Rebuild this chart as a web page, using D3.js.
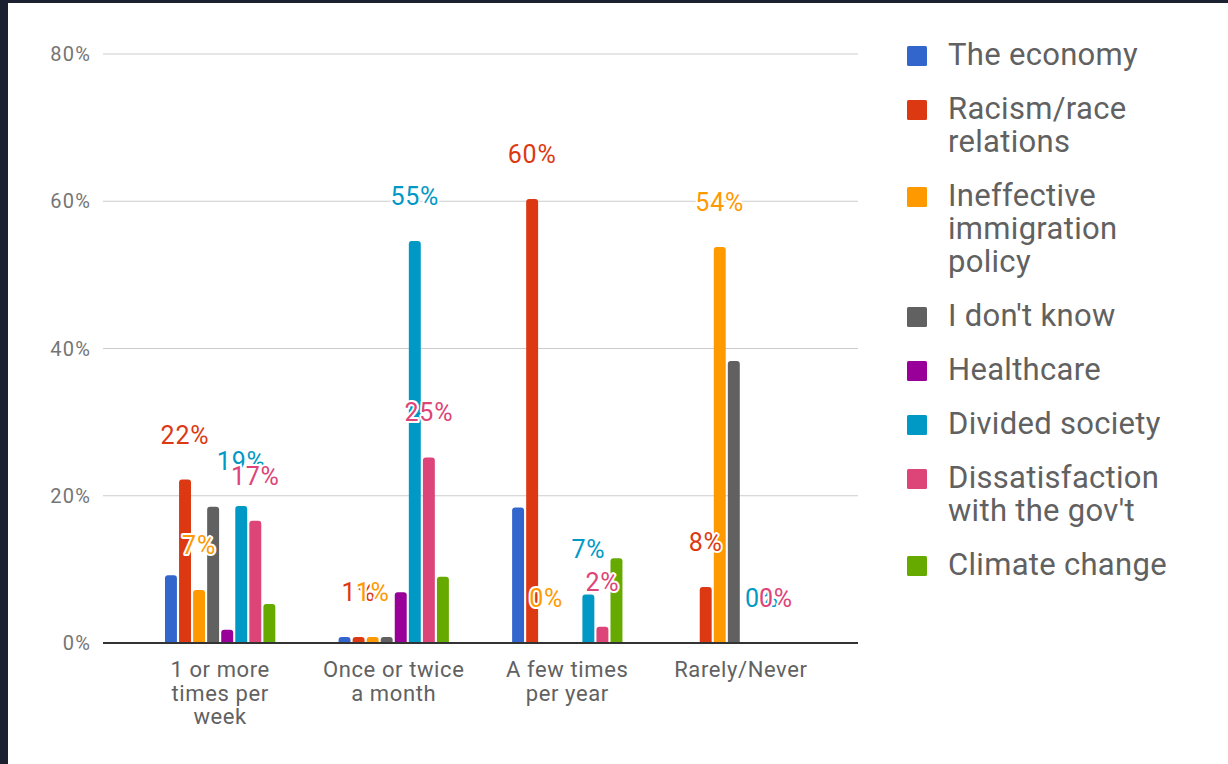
<!DOCTYPE html>
<html>
<head>
<meta charset="utf-8">
<script src="https://cdn.jsdelivr.net/npm/d3@7"></script>
<style>
  html, body { margin: 0; padding: 0; background: #1b2130; }
  svg { display: block; }
</style>
</head>
<body>
<script>
// ---- data ----
const categories = ["1 or more times per week", "Once or twice a month", "A few times per year", "Rarely/Never"];
const categoryLines = [["1 or more", "times per", "week"], ["Once or twice", "a month"], ["A few times", "per year"], ["Rarely/Never"]];
const seriesNames = ["The economy", "Racism/race relations", "Ineffective immigration policy", "I don't know", "Healthcare", "Divided society", "Dissatisfaction with the gov't", "Climate change"];
const legendLines = [["The economy"], ["Racism/race", "relations"], ["Ineffective", "immigration", "policy"], ["I don't know"], ["Healthcare"], ["Divided society"], ["Dissatisfaction", "with the gov't"], ["Climate change"]];
const colors = ["#3366cc", "#dc3912", "#ff9900", "#616161", "#990099", "#0099c6", "#dd4477", "#66aa00"];
const economy      = [9.2, 0.8, 18.4, 0];
const racism       = [22.2, 0.8, 60.3, 7.6];
const immigration  = [7.2, 0.8, 0, 53.8];
const dontKnow     = [18.5, 0.8, 0, 38.3];
const healthcare   = [1.8, 6.9, 0, 0];
const divided      = [18.6, 54.6, 6.6, 0];
const dissatisfied = [16.6, 25.2, 2.2, 0];
const climate      = [5.3, 9.0, 11.5, 0];
const seriesValues = [economy, racism, immigration, dontKnow, healthcare, divided, dissatisfied, climate];
const labeledSeries = [1, 2, 5, 6];
const yTicks = [0, 20, 40, 60, 80];

// ---- layout ----
const W = 1228, H = 764;
const svg = d3.select("body").append("svg").attr("width", W).attr("height", H);
svg.append("rect").attr("x", 8).attr("y", 3).attr("width", W - 8).attr("height", H - 3).attr("fill", "#ffffff");

const font = "Roboto, 'Noto Sans', sans-serif";
const y = d3.scaleLinear().domain([0, 80]).range([643, 54]);
const x0 = d3.scaleBand().domain(categories).range([103, 858]).paddingInner(0.34).paddingOuter(0.345);
const x1 = d3.scaleBand().domain(seriesNames).range([0, x0.bandwidth()]).padding(0.15);

// gridlines
const grid = svg.append("g");
grid.selectAll("line").data(yTicks.filter(t => t > 0)).join("line")
  .attr("x1", 103).attr("x2", 858)
  .attr("y1", d => y(d)).attr("y2", d => y(d))
  .attr("stroke", "#cccccc").attr("stroke-width", 1);

// y labels
svg.append("g").selectAll("text").data(yTicks).join("text")
  .attr("x", 91).attr("y", d => y(d) + 7)
  .attr("text-anchor", "end")
  .attr("font-family", font).attr("font-size", 20).attr("letter-spacing", 1.2).attr("fill", "#757575")
  .text(d => d + "%");

// bars
const r = 3;
function barPath(x, yTop, w, yBase) {
  const h = yBase - yTop;
  if (h <= 0) return "";
  const rr = Math.min(r, h, w / 2);
  return `M${x},${yBase}V${yTop + rr}Q${x},${yTop} ${x + rr},${yTop}H${x + w - rr}Q${x + w},${yTop} ${x + w},${yTop + rr}V${yBase}Z`;
}
const groups = svg.append("g").selectAll("g").data(categories).join("g")
  .attr("transform", d => `translate(${x0(d)},0)`);
groups.selectAll("path").data((c, ci) => seriesNames.map((s, si) => ({ s, si, v: seriesValues[si][ci] })))
  .join("path")
  .attr("d", d => barPath(x1(d.s), y(d.v), x1.bandwidth(), y(0)))
  .attr("fill", d => colors[d.si]);

// baseline
svg.append("line").attr("x1", 103).attr("x2", 858).attr("y1", y(0)).attr("y2", y(0))
  .attr("stroke", "#333333").attr("stroke-width", 2);

// value labels
const labels = svg.append("g");
labeledSeries.forEach(si => {
  categories.forEach((c, ci) => {
    const v = seriesValues[si][ci];
    labels.append("text")
      .attr("x", x0(c) + x1(seriesNames[si]) + x1.bandwidth() / 2)
      .attr("y", y(v) - 36)
      .attr("text-anchor", "middle")
      .attr("font-family", font).attr("font-size", 25).attr("letter-spacing", 0.8)
      .attr("fill", colors[si])
      .attr("stroke", "#ffffff").attr("stroke-width", 4).attr("stroke-linejoin", "round")
      .attr("paint-order", "stroke")
      .text(Math.round(v) + "%");
  });
});

// x labels
const xl = svg.append("g");
categories.forEach((c, ci) => {
  const cx = x0(c) + x0.bandwidth() / 2;
  const t = xl.append("text")
    .attr("x", cx).attr("y", 677)
    .attr("text-anchor", "middle")
    .attr("font-family", font).attr("font-size", 22).attr("letter-spacing", 0.6).attr("fill", "#616161");
  categoryLines[ci].forEach((ln, li) => {
    t.append("tspan").attr("x", cx).attr("dy", li === 0 ? 0 : 23.5).text(ln);
  });
});

// legend
const legend = svg.append("g");
let ly = 65;
seriesNames.forEach((s, si) => {
  legend.append("rect").attr("x", 907).attr("y", ly - 19).attr("width", 20).attr("height", 20)
    .attr("fill", colors[si]).attr("rx", 1.5);
  const t = legend.append("text").attr("x", 948).attr("y", ly)
    .attr("font-family", font).attr("font-size", 31).attr("letter-spacing", 0.3).attr("fill", "#616161");
  legendLines[si].forEach((ln, li) => {
    t.append("tspan").attr("x", 948).attr("dy", li === 0 ? 0 : 33).text(ln);
  });
  ly += (legendLines[si].length - 1) * 33 + 54;
});
</script>
</body>
</html>
